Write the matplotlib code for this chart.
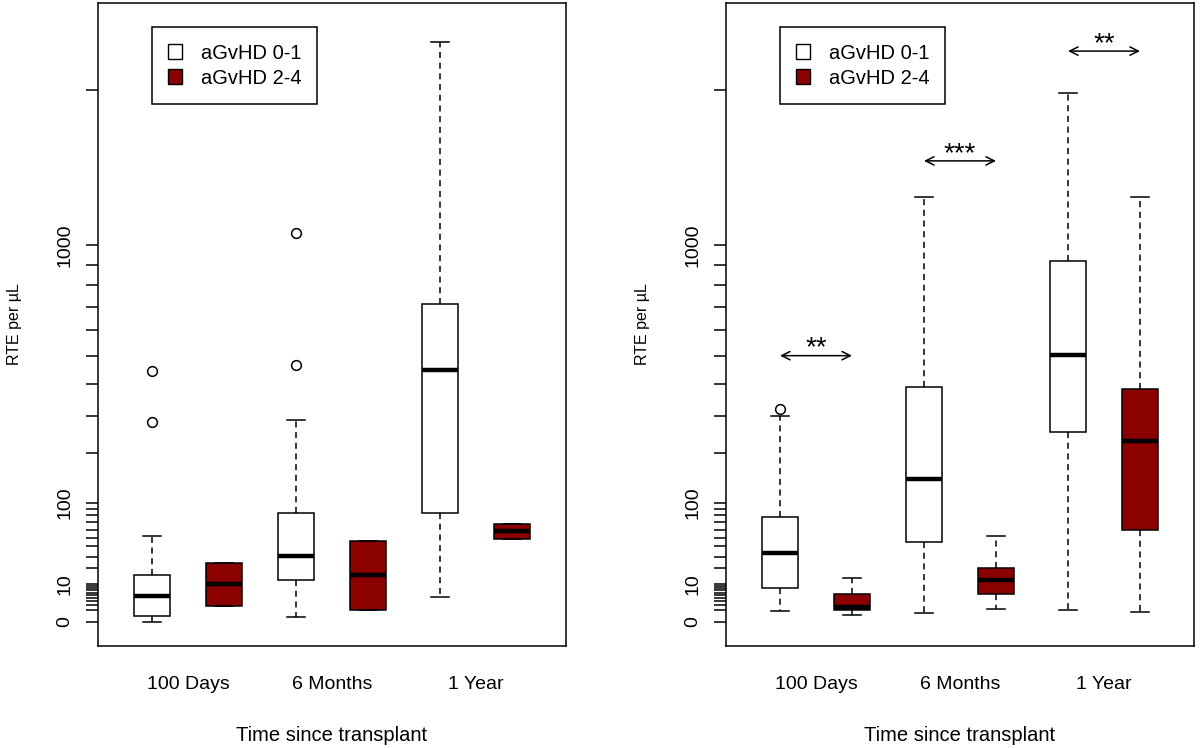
import numpy as np
import matplotlib.pyplot as plt
from matplotlib.patches import Patch

plt.rcParams['font.family'] = ['Liberation Sans', 'DejaVu Sans']

groups = ['100 Days', '6 Months', '1 Year']
series = ['aGvHD 0-1', 'aGvHD 2-4']
colors = ['white', '#8B0000']

# box order: 100d low, 100d high, 6mo low, 6mo high, 1y low, 1y high
left_whislo = [0, 1.85, 0.19, 0.93, 4.2, 48]
left_q1 = [0.24, 1.85, 12.0, 0.93, 83, 48]
left_med = [4.7, 10.1, 30.3, 15.1, 449, 58]
left_q3 = [15.7, 24.7, 84, 46, 712, 67]
left_whishi = [52, 24.7, 286, 46, 2377, 67]
left_fliers = [[282, 443], [], [467, 1067], [], [], []]

right_whislo = [0.85, 0.28, 0.53, 1.14, 1.02, 0.66]
right_q1 = [8.0, 1.02, 45, 5.3, 255, 59]
right_med = [33.3, 1.53, 144, 12.5, 503, 230]
right_q3 = [77, 5.5, 388, 20.1, 920, 381]
right_whishi = [298, 13.5, 1274, 52, 1971, 1274]
right_fliers = [[321], [], [], [], [], []]

# significance brackets in right panel
sig_labels = ['**', '***', '**']
sig_y = [500, 1500, 2300]

y_major = [0, 10, 100, 1000]
y_minor = list(range(1, 10)) + list(range(20, 100, 10)) + list(range(200, 1000, 100)) + [2000]


def fwd(v):
    v = np.asarray(v, dtype=float)
    return np.sign(v) * np.sqrt(np.abs(v))


def inv(v):
    v = np.asarray(v, dtype=float)
    return np.sign(v) * v ** 2


def draw_panel(ax, whislo, q1, med, q3, whishi, fliers):
    stats = []
    for i in range(len(med)):
        stats.append(dict(whislo=whislo[i], q1=q1[i], med=med[i], q3=q3[i],
                          whishi=whishi[i], fliers=fliers[i]))
    pos = np.arange(1, len(med) + 1)
    bp = ax.bxp(stats, positions=pos, widths=0.5, capwidths=0.25,
                patch_artist=True, showfliers=True,
                boxprops=dict(edgecolor='black', linewidth=1.1),
                medianprops=dict(color='black', linewidth=3.2, solid_capstyle='butt'),
                whiskerprops=dict(color='black', linewidth=1.1, linestyle=(0, (4, 3))),
                capprops=dict(color='black', linewidth=1.1),
                flierprops=dict(marker='o', markersize=7, markerfacecolor='none',
                                markeredgecolor='black', markeredgewidth=1.1))
    for i, b in enumerate(bp['boxes']):
        b.set_facecolor(colors[i % 2])

    ax.set_yscale('function', functions=(fwd, inv))
    ax.set_ylim(-4, 2704)
    ax.set_xlim(0.25, 6.75)
    ax.set_yticks(y_major)
    ax.set_yticklabels([str(v) for v in y_major], rotation=90, va='center', fontsize=14)
    ax.set_yticks(y_minor, minor=True)
    ax.tick_params(axis='y', which='both', length=8.6, width=1.1, pad=9)
    ax.set_xticks([1.5, 3.5, 5.5])
    ax.set_xticklabels(groups, fontsize=14)
    ax.tick_params(axis='x', length=0, pad=22)
    for s in ax.spines.values():
        s.set_linewidth(1.1)
    ax.set_xlabel('Time since transplant', fontsize=14.5, labelpad=24)
    ax.set_ylabel('RTE per µL', fontsize=11.5)
    ax.yaxis.set_label_coords(-0.162, 0.5)

    handles = [Patch(facecolor=colors[0], edgecolor='black', linewidth=1.0),
               Patch(facecolor=colors[1], edgecolor='black', linewidth=1.0)]
    leg = ax.legend(handles, series, loc='upper left', bbox_to_anchor=(0.116, 0.962),
                    borderaxespad=0, fontsize=14.5, handlelength=0.7, handleheight=0.7,
                    handletextpad=0.9, borderpad=0.8, labelspacing=0.3,
                    fancybox=False, framealpha=1, edgecolor='black')
    leg.get_frame().set_linewidth(1.1)


fig = plt.figure(figsize=(12, 7.48), dpi=100)
ax1 = fig.add_axes([98 / 1200, 102.5 / 748, 468 / 1200, 642.5 / 748])
ax2 = fig.add_axes([726 / 1200, 102.5 / 748, 468 / 1200, 642.5 / 748])

draw_panel(ax1, left_whislo, left_q1, left_med, left_q3, left_whishi, left_fliers)
draw_panel(ax2, right_whislo, right_q1, right_med, right_q3, right_whishi, right_fliers)

for k in range(3):
    x0 = 2 * k + 1
    ax2.annotate('', xy=(x0 + 1, sig_y[k]), xytext=(x0, sig_y[k]),
                 arrowprops=dict(arrowstyle='<->, head_length=0.6, head_width=0.3',
                                 lw=1.1, color='black', shrinkA=0, shrinkB=0))
    ax2.annotate(sig_labels[k], xy=(x0 + 0.5, sig_y[k]), xytext=(0, 0),
                 textcoords='offset points', ha='center', va='baseline', fontsize=20)

fig.savefig('out.png', dpi=100)
